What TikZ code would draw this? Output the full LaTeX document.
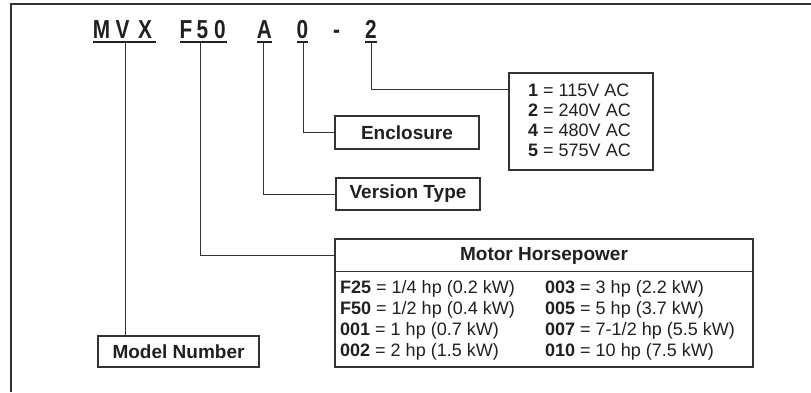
\documentclass[tikz,border=0pt]{standalone}
\usepackage{fontspec}
\setmainfont{Liberation Sans}
\usetikzlibrary{calc}
\definecolor{ink}{HTML}{231F20}
\definecolor{ln}{HTML}{333333}
\newcommand{\sx}[1]{\scalebox{0.8}[1]{#1}}
\begin{document}
\begin{tikzpicture}[x=1pt,y=-1pt,
  box/.style={draw=ln, line width=1.1pt, inner sep=0pt, text=ink, font=\fontsize{19}{19}\selectfont\bfseries},
  conn/.style={draw=ln, line width=1pt},
  frm/.style={draw=ln, line width=1.4pt},
  code/.style={text=ink, font=\fontsize{26}{26}\selectfont\bfseries, inner sep=0pt, anchor=base},
  uline/.style={draw=ink, line width=2pt},
  body/.style={text=ink, inner sep=0pt, anchor=base west}]
\useasboundingbox (0,0) rectangle (811,392);
% frame
\draw[frm] (811,4) -- (11,4) -- (11,392);
% code characters
\node[code] (cM) at (101.5,38) {\sx{M}};
\node[code] (cV) at (122.5,38) {\sx{V}};
\node[code] (cX) at (145,38) {\sx{X}};
\node[code] (cF) at (186,38) {\sx{F}};
\node[code] (c5) at (202.5,38) {\sx{5}};
\node[code] (c0) at (220,38) {\sx{0}};
\node[code] (cA) at (264.5,38) {\sx{A}};
\node[code] (cZ) at (302.5,38) {\sx{0}};
\node[code] (cD) at (336.5,38) {\sx{-}};
\node[code] (c2) at (371,38) {\sx{2}};
% underlines
\draw[uline] (93,42) -- (156,42);
\draw[uline] (180,42) -- (227,42);
\draw[uline] (257,42) -- (272,42);
\draw[uline] (297,42) -- (308,42);
\draw[uline] (365,42) -- (377,42);
\coordinate (u1) at (125,43);
\coordinate (u2) at (200,43);
\coordinate (u3) at (263,43);
\coordinate (u4) at (303,43);
\coordinate (u5) at (371,43);
% boxes
\node[box, minimum width=144, minimum height=97] (vb) at (581,121.5) {};
\node[body] (vbt) at (528,96) {\fontsize{18}{20}\selectfont\begin{tabular}[t]{@{}l@{}}
\textbf{1} = 115V AC\\ \textbf{2} = 240V AC\\ \textbf{4} = 480V AC\\ \textbf{5} = 575V AC\end{tabular}};
\node[box, minimum width=144, minimum height=33] (enc) at (407,132.5) {Enclosure};
\node[box, minimum width=144, minimum height=32] (vt) at (408,194) {Version Type};
\node[box, minimum width=418, minimum height=128] (mh) at (544,303) {};
\node[text=ink, inner sep=0pt, font=\fontsize{19}{19}\selectfont\bfseries] (mhh) at (544,255.5) {Motor Horsepower};
\draw[draw=ln, line width=1.1pt] ($(mh.north west)+(0,33)$) -- ($(mh.north east)+(0,33)$);
\node[body] (mhl) at (340,293) {\fontsize{18}{21}\selectfont\begin{tabular}[t]{@{}l@{}}
\textbf{F25} = 1/4 hp (0.2 kW)\\ \textbf{F50} = 1/2 hp (0.4 kW)\\ \textbf{001} = 1 hp (0.7 kW)\\ \textbf{002} = 2 hp (1.5 kW)\end{tabular}};
\node[body] (mhr) at (545,293) {\fontsize{18}{21}\selectfont\begin{tabular}[t]{@{}l@{}}
\textbf{003} = 3 hp (2.2 kW)\\ \textbf{005} = 5 hp (3.7 kW)\\ \textbf{007} = 7-1/2 hp (5.5 kW)\\ \textbf{010} = 10 hp (7.5 kW)\end{tabular}};
\node[box, minimum width=161, minimum height=31] (mn) at (178.5,351.5) {Model Number};
% connectors
\draw[conn] (u1) -- (u1 |- mn.north);
\draw[conn] (u2) |- (mh.west |- mhh);
\draw[conn] (u3) |- (vt.west);
\draw[conn] (u4) |- (enc.west);
\draw[conn] (u5) |- ($(vb.north west)!0.175!(vb.south west)$);
\end{tikzpicture}
\end{document}
